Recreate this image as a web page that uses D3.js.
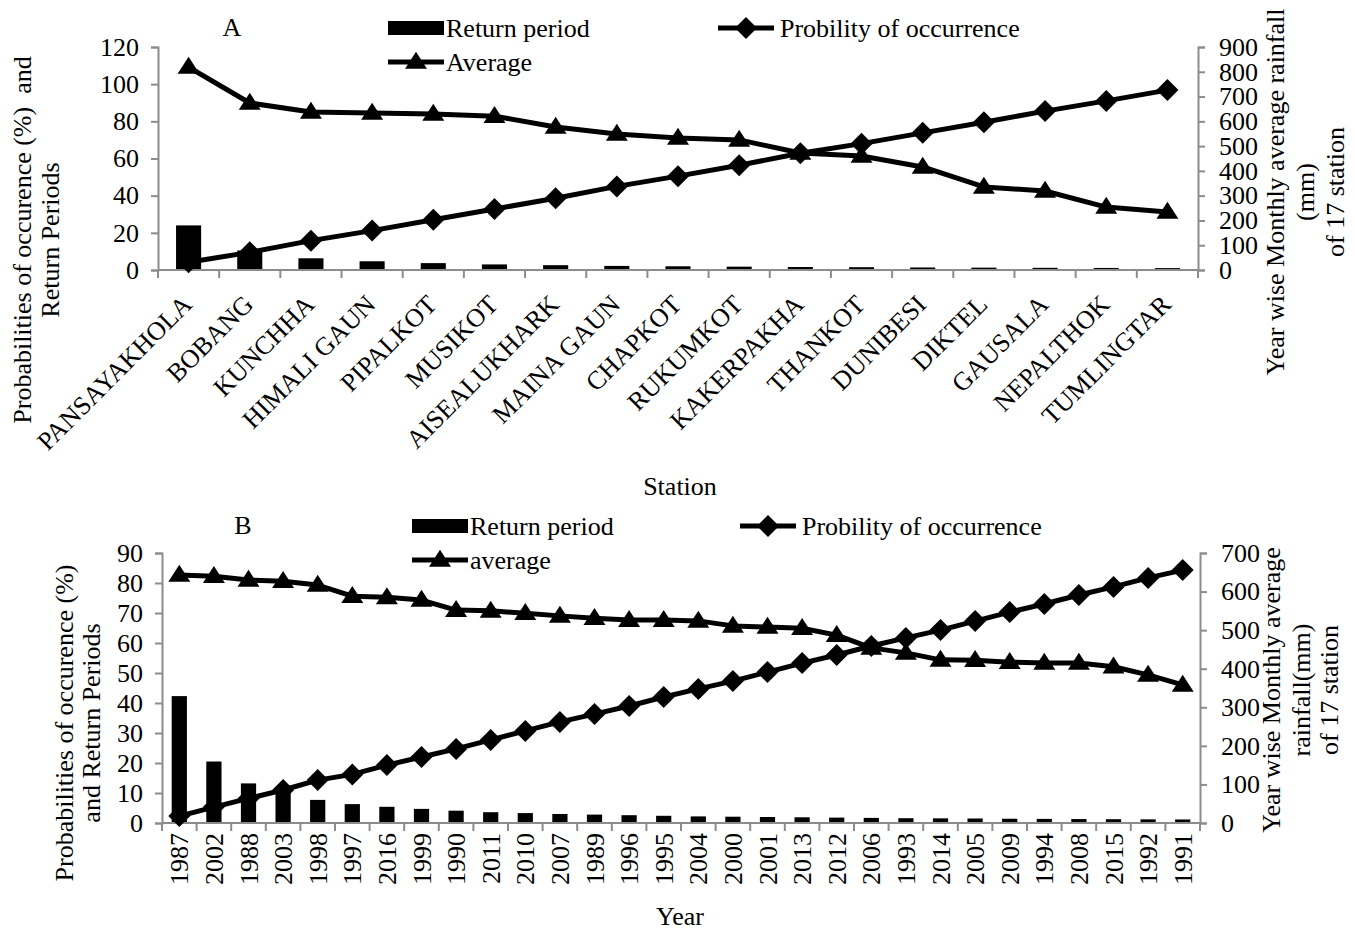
<!DOCTYPE html>
<html>
<head>
<meta charset="utf-8">
<script src="https://cdn.jsdelivr.net/npm/d3@7"></script>
<style>
  body { margin: 0; background: #fff; }
  svg text { font-family: "Liberation Serif", "Tinos", "Times New Roman", "DejaVu Serif", serif; fill: #000; white-space: pre; }
</style>
</head>
<body>
<div id="chart"></div>
<script>
// ---- data: panel A (stations) ----
var stations = ["PANSAYAKHOLA", "BOBANG", "KUNCHHA", "HIMALI GAUN", "PIPALKOT", "MUSIKOT",
  "AISEALUKHARK", "MAINA GAUN", "CHAPKOT", "RUKUMKOT", "KAKERPAKHA", "THANKOT",
  "DUNIBESI", "DIKTEL", "GAUSALA", "NEPALTHOK", "TUMLINGTAR"];
var returnA = [24, 10.5, 6.3, 4.7, 3.7, 3.0, 2.6, 2.2, 2.0, 1.8, 1.6, 1.5, 1.35, 1.26, 1.17, 1.1, 1.03];
var probA = [4.2, 9.5, 15.8, 21.2, 27, 32.8, 38.6, 45, 50.5, 56.4, 62.8, 68, 73.8, 79.5, 85.5, 91, 96.8];
var avgA = [819, 674, 638, 634, 630, 621, 577, 549, 533, 525, 472, 460, 416, 335, 319, 254, 234];
var leftTicksA = [0, 20, 40, 60, 80, 100, 120];
var rightTicksA = [0, 100, 200, 300, 400, 500, 600, 700, 800, 900];

// ---- data: panel B (years) ----
var years = ["1987", "2002", "1988", "2003", "1998", "1997", "2016", "1999", "1990", "2011",
  "2010", "2007", "1989", "1996", "1995", "2004", "2000", "2001", "2013", "2012",
  "2006", "1993", "2014", "2005", "2009", "1994", "2008", "2015", "1992", "1991"];
var returnB = [42.3, 20.5, 13.2, 10.3, 7.7, 6.3, 5.4, 4.7, 4.1, 3.6, 3.3, 3.0, 2.8, 2.6, 2.4,
  2.2, 2.1, 2.0, 1.9, 1.8, 1.7, 1.6, 1.55, 1.5, 1.42, 1.37, 1.32, 1.27, 1.22, 1.18];
var probB = [2.3, 5.3, 8.2, 11, 14.3, 16.2, 19.3, 22, 24.7, 27.7, 30.7, 33.7, 36.3, 39, 42,
  44.7, 47.3, 50.3, 53.3, 56, 59, 61.7, 64.3, 67.3, 70.3, 73, 76, 78.7, 81.7, 84.3];
var avgB = [643, 640, 630, 627, 617, 588, 585, 578, 552, 550, 544, 537, 531, 526, 526,
  524, 511, 508, 505, 487, 454, 441, 423, 422, 417, 415, 415, 405, 384, 358];
var leftTicksB = [0, 10, 20, 30, 40, 50, 60, 70, 80, 90];
var rightTicksB = [0, 100, 200, 300, 400, 500, 600, 700];

var axisColor = "#8c8c8c";
var fontSize = 26;
var serif = '"Liberation Serif", "Tinos", "Times New Roman", "DejaVu Serif", serif';

var svg = d3.select("#chart").append("svg")
  .attr("width", 1355)
  .attr("height", 930)
  .attr("font-family", serif);

function diamondPath(x, y) {
  var r = 11;
  return `M${x},${y - r}L${x + r},${y}L${x},${y + r}L${x - r},${y}Z`;
}
function trianglePath(x, y) {
  var w = 11, h = 17;
  return `M${x},${y - h * 0.6}L${x + w},${y + h * 0.4}L${x - w},${y + h * 0.4}Z`;
}

function label(sel) {
  return sel.attr("font-family", serif).style("font-family", serif).style("font-size", fontSize + "px");
}

function drawPanel(p) {
  var g = svg.append("g");
  var x = d3.scaleBand().domain(p.cats).range([p.left, p.right]).padding(0);
  var yL = d3.scaleLinear().domain([0, p.leftTicks[p.leftTicks.length - 1]]).range([p.bottom, p.top]);
  var yR = d3.scaleLinear().domain([0, p.rightTicks[p.rightTicks.length - 1]]).range([p.bottom, p.top]);
  var bw = x.bandwidth();
  var cx = d => x(d) + bw / 2;

  // left axis
  var la = g.append("g").attr("transform", `translate(${p.left},0)`)
    .call(d3.axisLeft(yL).tickValues(p.leftTicks).tickSize(7).tickPadding(12));
  // right axis
  var ra = g.append("g").attr("transform", `translate(${p.right},0)`)
    .call(d3.axisRight(yR).tickValues(p.rightTicks).tickSize(7).tickPadding(14));
  [la, ra].forEach(function(a) {
    a.attr("font-family", serif).attr("font-size", fontSize);
    a.select(".domain").attr("stroke", axisColor).attr("stroke-width", 2);
    a.selectAll(".tick line").attr("stroke", axisColor).attr("stroke-width", 2);
    label(a.selectAll(".tick text")).attr("fill", "#000");
  });

  // bars (return period, left axis)
  g.selectAll("rect.bar").data(p.cats).enter().append("rect")
    .attr("class", "bar")
    .attr("x", d => cx(d) - bw * p.barFrac / 2)
    .attr("width", bw * p.barFrac)
    .attr("y", (d, i) => yL(p.ret[i]))
    .attr("height", (d, i) => yL(0) - yL(p.ret[i]))
    .attr("fill", "#000");

  // bottom axis line and boundary ticks
  g.append("line").attr("x1", p.left).attr("x2", p.right)
    .attr("y1", p.bottom).attr("y2", p.bottom)
    .attr("stroke", axisColor).attr("stroke-width", 2);
  var bounds = p.cats.map(d => x(d)).concat([p.right]);
  g.selectAll("line.xt").data(bounds).enter().append("line")
    .attr("class", "xt")
    .attr("x1", d => d).attr("x2", d => d)
    .attr("y1", p.bottom).attr("y2", p.bottom + 8)
    .attr("stroke", axisColor).attr("stroke-width", 2);

  // category labels
  label(g.selectAll("text.xl").data(p.cats).enter().append("text"))
    .attr("class", "xl")
    .attr("transform", d => p.rot === -45
      ? `translate(${cx(d) + 5},${p.bottom + 36}) rotate(-45)`
      : `translate(${cx(d)},${p.bottom + 10}) rotate(-90)`)
    .attr("dy", p.rot === -45 ? "0" : "0.35em")
    .attr("text-anchor", "end")
    .text(d => d);

  // lines
  var lineL = d3.line().x((d, i) => cx(p.cats[i])).y(d => yL(d));
  var lineR = d3.line().x((d, i) => cx(p.cats[i])).y(d => yR(d));
  g.append("path").datum(p.avg).attr("d", lineR)
    .attr("fill", "none").attr("stroke", "#000").attr("stroke-width", 5).attr("stroke-linejoin", "round");
  g.append("path").datum(p.prob).attr("d", lineL)
    .attr("fill", "none").attr("stroke", "#000").attr("stroke-width", 5).attr("stroke-linejoin", "round");
  g.selectAll("path.tri").data(p.avg).enter().append("path")
    .attr("class", "tri")
    .attr("d", (d, i) => trianglePath(cx(p.cats[i]), yR(d)))
    .attr("fill", "#000");
  g.selectAll("path.dia").data(p.prob).enter().append("path")
    .attr("class", "dia")
    .attr("d", (d, i) => diamondPath(cx(p.cats[i]), yL(d)))
    .attr("fill", "#000");

  // panel letter
  label(g.append("text")).attr("x", p.letterX).attr("y", p.legendY + 8)
    .attr("text-anchor", "middle").text(p.letter);

  // legend
  var lx = p.legendX, ly = p.legendY;
  g.append("rect").attr("x", lx).attr("y", ly - 7).attr("width", 56).attr("height", 14).attr("fill", "#000");
  label(g.append("text")).attr("x", lx + 58).attr("y", ly + 9).text("Return period");
  var px = p.legendX2;
  g.append("line").attr("x1", px).attr("x2", px + 56).attr("y1", ly).attr("y2", ly)
    .attr("stroke", "#000").attr("stroke-width", 5);
  g.append("path").attr("d", diamondPath(px + 28, ly)).attr("fill", "#000");
  label(g.append("text")).attr("x", px + 62).attr("y", ly + 9).text("Probility of occurrence");
  var ly2 = ly + 34;
  g.append("line").attr("x1", lx).attr("x2", lx + 56).attr("y1", ly2).attr("y2", ly2)
    .attr("stroke", "#000").attr("stroke-width", 5);
  g.append("path").attr("d", trianglePath(lx + 28, ly2)).attr("fill", "#000");
  label(g.append("text")).attr("x", lx + 58).attr("y", ly2 + 9).text(p.avgLabel);

  // axis titles
  p.leftTitle.forEach(function(t) {
    label(g.append("text")).attr("transform", `translate(${t[1]},${p.leftTitleY}) rotate(-90)`)
      .attr("text-anchor", "middle").attr("dy", "0.35em").text(t[0]);
  });
  p.rightTitle.forEach(function(t) {
    label(g.append("text")).attr("transform", `translate(${t[1]},${p.rightTitleY}) rotate(-90)`)
      .attr("text-anchor", "middle").attr("dy", "0.35em").text(t[0]);
  });
  label(g.append("text")).attr("x", 680).attr("y", p.xTitleY).attr("text-anchor", "middle")
    .text(p.xTitle);
}

drawPanel({
  cats: stations, ret: returnA, prob: probA, avg: avgA,
  leftTicks: leftTicksA, rightTicks: rightTicksA,
  left: 158, right: 1198, top: 47, bottom: 270, barFrac: 0.41, rot: -45,
  letter: "A", letterX: 232, legendX: 388, legendX2: 718, legendY: 28, avgLabel: "Average",
  leftTitle: [["Probabilities of occurence (%)  and", 22], ["Return Periods", 50]], leftTitleY: 240,
  rightTitle: [["Year wise Monthly average rainfall", 1275], ["(mm)", 1305], ["of 17 station", 1335]], rightTitleY: 192,
  xTitle: "Station", xTitleY: 495
});

drawPanel({
  cats: years, ret: returnB, prob: probB, avg: avgB,
  leftTicks: leftTicksB, rightTicks: rightTicksB,
  left: 162, right: 1200, top: 553, bottom: 823, barFrac: 0.44, rot: -90,
  letter: "B", letterX: 243, legendX: 412, legendX2: 740, legendY: 526, avgLabel: "average",
  leftTitle: [["Probabilities of occurence (%)", 64], ["and Return Periods", 91]], leftTitleY: 723,
  rightTitle: [["Year wise Monthly average", 1271], ["rainfall(mm)", 1301], ["of 17 station", 1329]], rightTitleY: 690,
  xTitle: "Year", xTitleY: 925
});
</script>
</body>
</html>
